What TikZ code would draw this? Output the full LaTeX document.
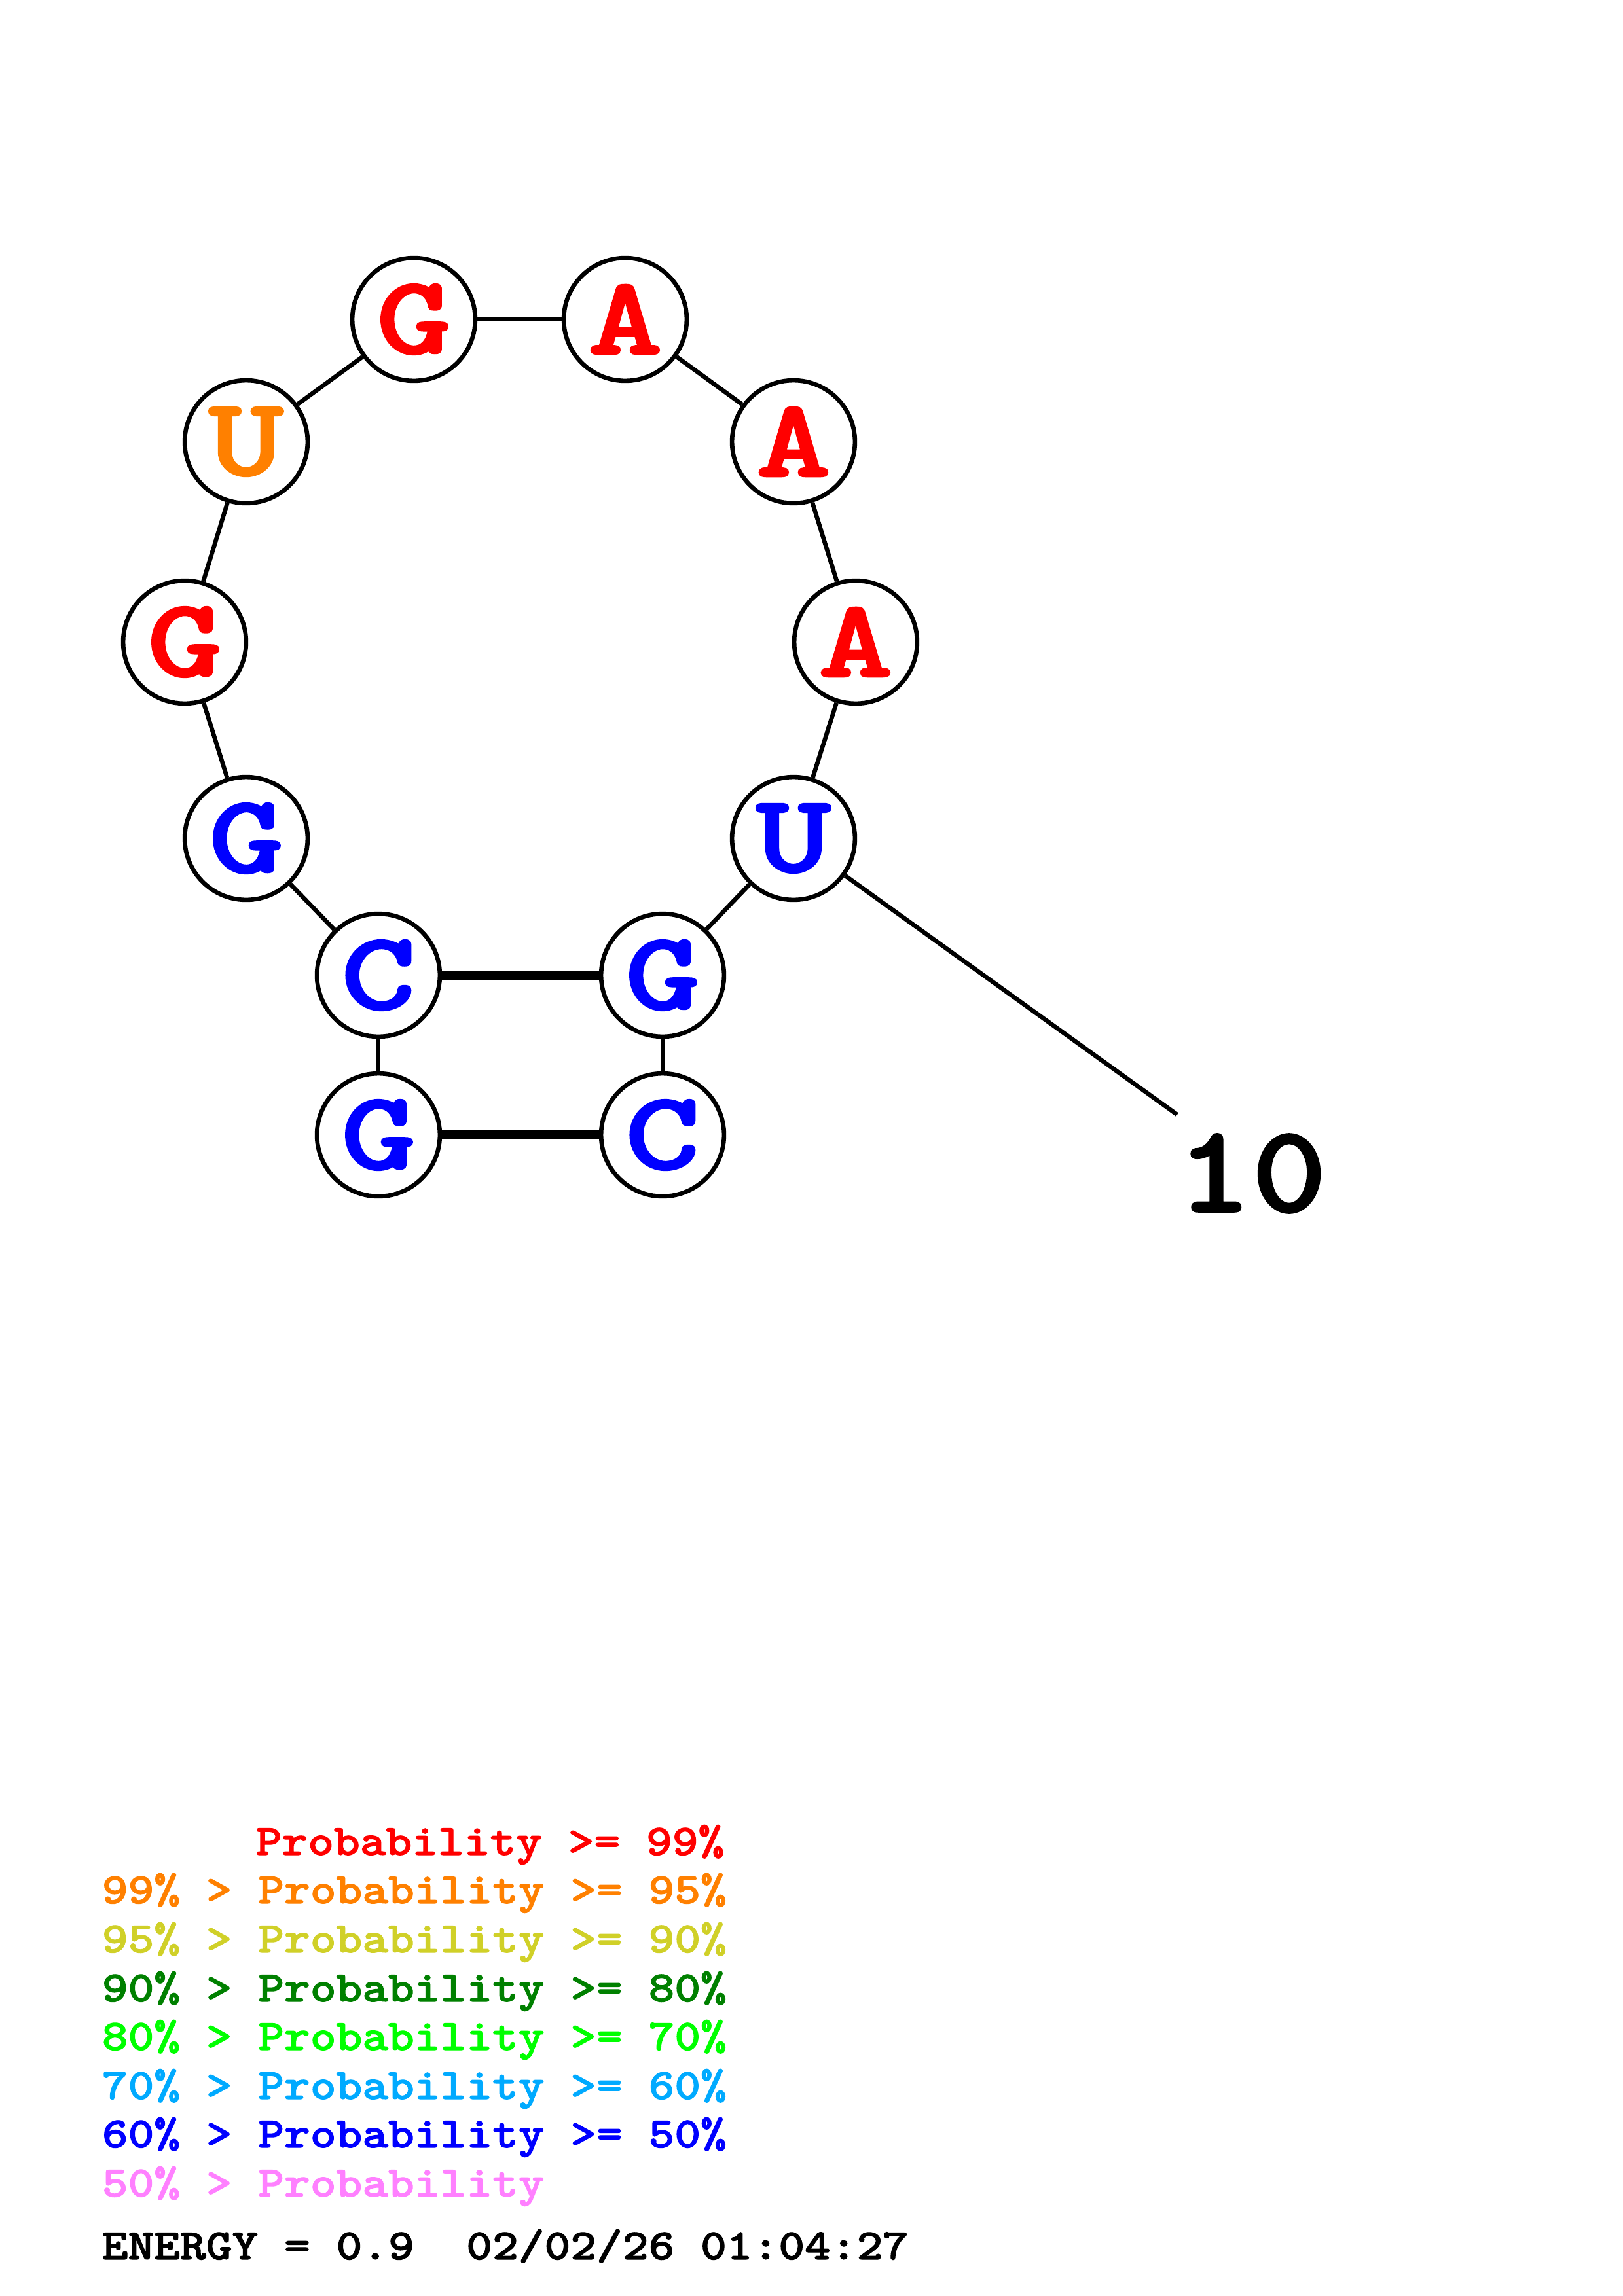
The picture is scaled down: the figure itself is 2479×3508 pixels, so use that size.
\documentclass[tikz,border=0pt]{standalone}
\usepackage{color}
\usepackage{graphicx}
\usepackage{fontspec}
\usepackage{tikz}

\newfontfamily\heavytt{lmmonolt10-bold.otf}[FakeBold=1.5]

\definecolor{prob99}{RGB}{255,0,0}
\definecolor{prob95}{RGB}{255,128,0}
\definecolor{prob90}{RGB}{208,208,40}
\definecolor{prob80}{RGB}{0,128,0}
\definecolor{prob70}{RGB}{0,255,0}
\definecolor{prob60}{RGB}{0,170,255}
\definecolor{prob50}{RGB}{0,0,255}
\definecolor{prob00}{RGB}{255,128,255}

\newcommand{\wtt}[1]{\scalebox{1.14}[1]{#1}}
\newcommand{\wnt}[1]{\scalebox{1.28}[1]{#1}}

\begin{document}
\begin{tikzpicture}[x=0.08467mm, y=-0.08467mm]
% Node styles ---
\tikzstyle{base} = [circle, line width = 1.6pt, minimum size = 15.9mm, inner sep = 0pt, draw = black!100, fill = white!100, font = \fontsize{41}{41}\selectfont\heavytt]
\tikzstyle{num} = [inner sep = 0pt, font = \fontsize{46}{46}\selectfont\heavytt]
\tikzstyle{leg} = [anchor = base west, inner sep = 0pt, font = \fontsize{16}{16}\selectfont\heavytt]
\tikzstyle{bb} = [line width = 1.6pt, draw = black!100]
\tikzstyle{pair} = [line width = 3.5pt, draw = black!100]
% Begin Figure ---
\useasboundingbox (0,0) rectangle (2479,3508);
% Nodes
\node at (578,1734) [base] (g1) {\wnt{\color{prob50}G}};
\node at (578,1490) [base] (c2) {\wnt{\color{prob50}C}};
\node at (376,1281) [base] (g3) {\wnt{\color{prob50}G}};
\node at (282,981) [base] (g4) {\wnt{\color{prob99}G}};
\node at (376,675) [base] (u5) {\wnt{\color{prob95}U}};
\node at (632,488) [base] (g6) {\wnt{\color{prob99}G}};
\node at (955,488) [base] (a7) {\wnt{\color{prob99}A}};
\node at (1212,675) [base] (a8) {\wnt{\color{prob99}A}};
\node at (1307,981) [base] (a9) {\wnt{\color{prob99}A}};
\node at (1212,1281) [base] (u10) {\wnt{\color{prob50}U}};
\node at (1012,1490) [base] (g11) {\wnt{\color{prob50}G}};
\node at (1012,1734) [base] (c12) {\wnt{\color{prob50}C}};
\coordinate (t10) at (1798,1703);
\node at (1912,1793) [num] (n10) {\wtt{10}};
% Paths
\path (g1) edge [bb] (c2);
\path (c2) edge [bb] (g3);
\path (g3) edge [bb] (g4);
\path (g4) edge [bb] (u5);
\path (u5) edge [bb] (g6);
\path (g6) edge [bb] (a7);
\path (a7) edge [bb] (a8);
\path (a8) edge [bb] (a9);
\path (a9) edge [bb] (u10);
\path (u10) edge [bb] (g11);
\path (g11) edge [bb] (c12);
\path (u10) edge [bb] (t10);
% pairs
\path (c2) edge [pair] (g11);
\path (g1) edge [pair] (c12);
% legend
\node at (390,2834) [leg, text = prob99] (l99) {\wtt{Probability >= 99\%}};
\node at (155,2908) [leg, text = prob95] (l95) {\wtt{99\% > Probability >= 95\%}};
\node at (155,2983) [leg, text = prob90] (l90) {\wtt{95\% > Probability >= 90\%}};
\node at (155,3058) [leg, text = prob80] (l80) {\wtt{90\% > Probability >= 80\%}};
\node at (155,3132) [leg, text = prob70] (l70) {\wtt{80\% > Probability >= 70\%}};
\node at (155,3207) [leg, text = prob60] (l60) {\wtt{70\% > Probability >= 60\%}};
\node at (155,3281) [leg, text = prob50] (l50) {\wtt{60\% > Probability >= 50\%}};
\node at (155,3356) [leg, text = prob00] (l00) {\wtt{50\% > Probability}};
\node at (155,3452) [leg] (energy) {\wtt{ENERGY = 0.9\ \ 02/02/26 01:04:27}};
\end{tikzpicture}
\end{document}
